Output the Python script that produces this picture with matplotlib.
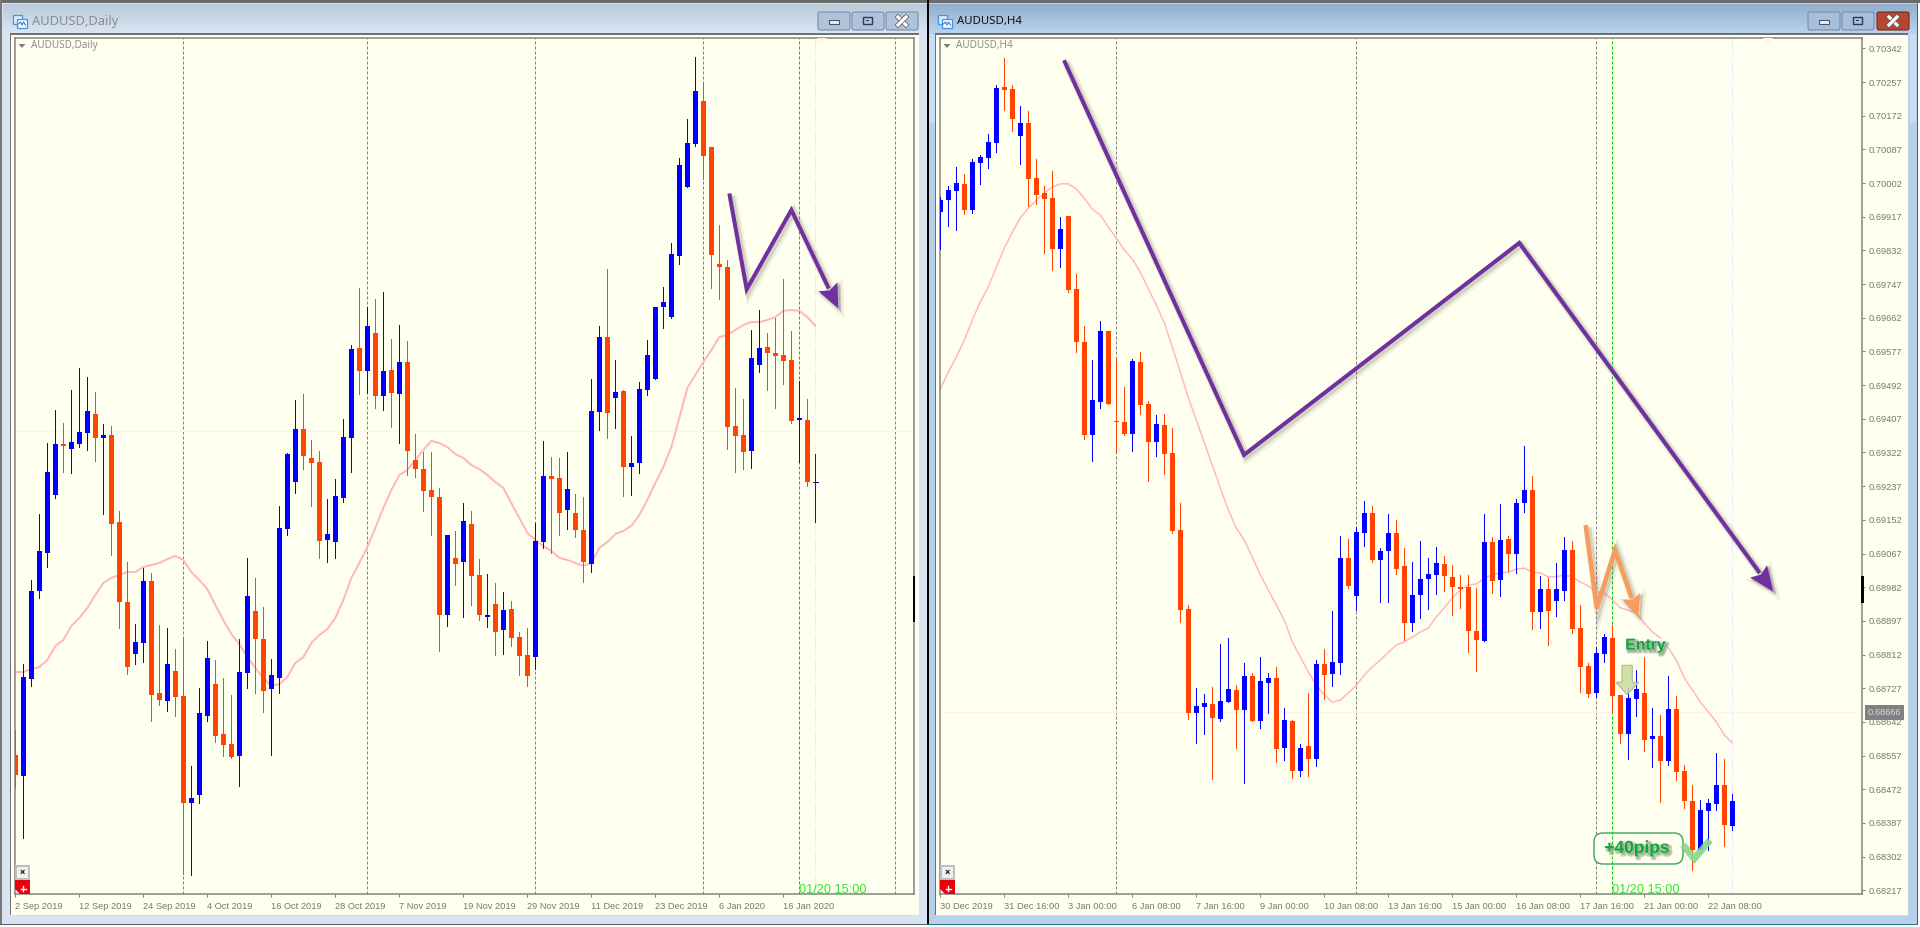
import matplotlib
matplotlib.use("Agg")
import matplotlib.pyplot as plt
import matplotlib.patheffects as pe
from matplotlib.patches import Rectangle, Polygon, FancyBboxPatch
from matplotlib.lines import Line2D
from matplotlib.transforms import IdentityTransform
import numpy as np

# ---------- data (prices in 1e-5 units) ----------
d_dirs = ("obbbbbobbb" "obooobboob" "oobbbooobb" "oobbbbooob" "bbbobobobo"
          "oooobobo" "ob" "obooobboob" "oobbobobbb" "bbbbbboooo" "oobboooobo" "p")
d_high = [67352,67642,68012,68302,68615,68760,68703,68848,68945,68905,
          68839,68698,68690,68316,68091,67818,68065,68043,67814,67801,
          67708,67761,67194,67537,67744,67660,67581,67506,67752,68109,
          68021,67893,67664,68338,68571,68804,68830,68628,68580,68368,
          68456,68720,69046,69297,69213,69248,69279,69072,69134,69064,
          68654,68575,68575,68417,68210,68228,68351,68316,68104,68038,
          67999,67959,67920,67783,67801,68263,68624,68553,68549,68575,
          68390,68377,68896,69130,69380,68980,68848,68646,68883,69068,
          69213,69301,69495,69869,70040,70313,70194,69917,69574,69420,
          68857,68808,69112,69200,69099,69165,69336,69108,68888,68808,68566]
d_top = [67242,67585,67964,68140,68487,68610,68610,68619,68663,68756,
         68742,68650,68650,68267,67915,67739,68008,68008,67515,67642,
         67612,67502,67053,67427,67669,67554,67334,67290,67607,67942,
         67876,67752,67594,68241,68566,68676,68676,68549,68531,68214,
         68382,68641,69028,69033,69130,69099,68932,68936,68971,68971,
         68540,68500,68408,68377,68210,68109,68272,68258,68034,67858,
         67906,67880,67884,67761,67682,68184,68470,68470,68461,68412,
         68307,68232,68756,69081,69081,68839,68844,68527,68852,69002,
         69213,69235,69446,69838,69935,70164,70120,69917,69402,69389,
         68690,68650,68989,69033,69037,69011,69002,68980,68725,68716,68443]
d_bot = [67154,67150,67576,67964,68131,68386,68602,68588,68610,68659,
         68637,68637,68258,67915,67629,67686,67735,67506,67484,67480,
         67497,67031,67031,67066,67414,67326,67286,67233,67238,67603,
         67752,67524,67532,67581,68236,68443,68558,68527,68184,68188,
         68179,68373,68637,68932,68932,68822,68822,68835,68830,68580,
         68500,68404,68377,67858,67858,68082,68091,68030,67858,67849,
         67783,67792,67757,67678,67590,67673,68179,68456,68307,68320,
         68232,68091,68082,68751,68747,68813,68509,68509,68527,68848,
         68896,69213,69169,69438,69741,69930,69878,69442,69389,68685,
         68646,68575,68580,68958,69011,68998,68976,68712,68716,68443,68443]
d_low = [67101,66877,67546,67933,68069,68373,68487,68483,68597,68584,
         68536,68302,68122,67801,67598,67642,67651,67392,67462,67436,
         67414,66718,66714,67031,67392,67299,67238,67229,67106,67537,
         67515,67431,67242,67515,68210,68395,68500,68338,68109,68091,
         68109,68355,68487,68830,68835,68769,68760,68685,68615,68474,
         68465,68316,68210,67700,67810,67990,67849,67902,67836,67805,
         67682,67686,67722,67594,67546,67620,68153,68131,68210,68236,
         68201,68003,68047,68672,68637,68681,68382,68386,68483,68826,
         68896,69121,69165,69402,69741,69922,69776,69297,69248,68588,
         68487,68500,68505,68927,68848,68769,68874,68703,68531,68426,68267]
d_ma = [67607,67607,67620,67629,67660,67722,67748,67810,67845,67889,
        67946,67999,68021,68034,68047,68047,68069,68078,68087,68104,
        68118,68100,68047,68012,67972,67902,67836,67774,67730,67673,
        67625,67581,67546,67554,67585,67647,67673,67735,67770,67796,
        67845,67924,68021,68087,68157,68241,68329,68408,68474,68496,
        68540,68584,68624,68615,68597,68566,68549,68518,68500,68474,
        68443,68417,68351,68285,68219,68188,68162,68140,68109,68100,
        68087,68074,68087,68153,68179,68214,68228,68250,68298,68364,
        68439,68509,68597,68725,68857,68914,68971,69024,69081,69090,
        69112,69134,69147,69147,69156,69169,69196,69200,69196,69169,69130]
d_tick_idx = [0,8,16,24,32,40,48,56,64,72,80,88,96]
d_tick_lab = ["2 Sep 2019","12 Sep 2019","24 Sep 2019","4 Oct 2019","16 Oct 2019",
              "28 Oct 2019","7 Nov 2019","19 Nov 2019","29 Nov 2019","11 Dec 2019",
              "23 Dec 2019","6 Jan 2020","16 Jan 2020"]
d_seps = [21,44,65,86,110]

h_dirs = ("bbbobbbboo" "boooobooob" "booobooboo" "oobbobbobo" "bbobobobob"
          "bobbobboob" "bbbooooobo" "bobbobobbo" "oobboobbob" "obooobbbob")
h_high = [69967,69995,70043,70025,70063,70073,70126,70249,70318,70249,
          70196,70184,70063,69995,70032,69916,69919,69772,69641,69555,
          69654,69629,69558,69487,69558,69576,69452,69417,69419,69384,
          69195,68937,68728,68712,68730,68839,68854,68735,68791,68765,
          68806,68765,68781,68677,68647,68586,68715,68798,68826,68922,
          69111,69104,69134,69200,69187,69081,69167,69152,69081,69046,
          69099,69056,69083,69061,69038,69013,69013,68980,69167,69109,
          69192,69111,69205,69338,69263,69010,69005,69043,69109,69099,
          68937,68791,68831,68864,68887,68710,68728,68773,68806,68677,
          68660,68758,68707,68533,68483,68445,68447,68564,68548,68460]
h_top = [69959,69984,70002,70000,70055,70068,70106,70242,70244,70239,
         70154,70154,70015,69977,69964,69886,69919,69735,69601,69454,
         69629,69629,69401,69399,69553,69550,69444,69394,69391,69321,
         69126,68927,68682,68690,68687,68695,68725,68723,68758,68758,
         68745,68753,68753,68647,68644,68576,68581,68788,68788,68793,
         69056,69056,69121,69169,69169,69073,69119,69119,69036,68962,
         69003,69015,69043,69041,69008,68982,68982,68871,69096,69096,
         69101,69104,69195,69227,69227,68977,68977,68977,69076,69076,
         68879,68783,68816,68856,68854,68710,68702,68725,68715,68606,
         68606,68675,68675,68518,68442,68420,68437,68483,68483,68442]
h_bot = [69929,69959,69982,69934,69934,70053,70065,70103,70237,70164,
         70121,70012,69972,69962,69836,69836,69732,69601,69366,69366,
         69449,69444,69399,69369,69369,69442,69348,69348,69318,69124,
         68924,68664,68664,68680,68652,68649,68692,68672,68672,68644,
         68644,68740,68574,68576,68518,68518,68548,68548,68760,68763,
         68791,68985,68960,69119,69051,69051,69073,69028,68892,68892,
         68962,69003,69013,69010,68982,68977,68871,68849,68846,68998,
         69000,69066,69066,69195,68919,68919,68922,68947,68972,68877,
         68781,68712,68715,68813,68707,68611,68611,68700,68596,68599,
         68543,68543,68516,68442,68319,68319,68417,68435,68382,68379]
h_low = [69836,69894,69883,69924,69926,70000,70040,70080,70186,70133,
         70050,69944,69949,69825,69783,69790,69727,69576,69356,69300,
         69434,69444,69323,69366,69326,69419,69250,69313,69268,69119,
         68894,68649,68589,68611,68498,68644,68692,68576,68488,68644,
         68627,68664,68541,68546,68500,68505,68505,68531,68700,68733,
         68763,68980,68924,69086,69046,68945,68945,69015,68849,68871,
         68904,68927,68965,68972,68912,68930,68818,68770,68846,68967,
         68960,69023,69018,69172,68877,68879,68836,68909,68950,68866,
         68717,68705,68705,68793,68667,68589,68548,68657,68569,68528,
         68440,68533,68495,68425,68268,68319,68319,68420,68329,68369]
h_ma = [69482,69525,69563,69606,69656,69702,69740,69790,69838,69878,
        69914,69939,69959,69977,69992,70000,70000,69987,69964,69936,
        69921,69891,69863,69833,69810,69777,69735,69694,69649,69588,
        69525,69460,69404,69346,69290,69232,69177,69131,69101,69058,
        69013,68975,68937,68899,68844,68806,68768,68735,68710,68692,
        68697,68715,68735,68760,68781,68798,68818,68836,68844,68856,
        68869,68879,68907,68930,68955,68975,68988,68990,69005,69013,
        69018,69020,69028,69030,69020,69018,69008,69008,69013,69008,
        68995,68985,68970,68967,68950,68930,68924,68917,68892,68869,
        68854,68829,68798,68753,68723,68692,68667,68642,68609,68589]
h_tick_idx = [0,8,16,24,32,40,48,56,64,72,80,88,96]
h_tick_lab = ["30 Dec 2019","31 Dec 16:00","3 Jan 00:00","6 Jan 08:00","7 Jan 16:00",
              "9 Jan 00:00","10 Jan 08:00","13 Jan 16:00","15 Jan 00:00","16 Jan 08:00",
              "17 Jan 16:00","21 Jan 00:00","22 Jan 08:00"]
h_seps = [22,52,82]
h_yticks = [70342,70257,70172,70087,70002,69917,69832,69747,69662,69577,69492,69407,69322,
            69237,69152,69067,68982,68897,68812,68727,68642,68557,68472,68387,68302,68217]
last_price = 68666

# annotation trend paths (bar index, price)
d_trend_x = [89.25,91.42,97.0,102.87]
d_trend_y = [69713,69291,69640,69207]
h_trend_x = [15.46,37.96,72.37,104.12]
h_trend_y = [70312,69316,69851,68971]
h_small_x = [80.67,82.05,84.33,87.25]
h_small_y = [69139,68929,69076,68907]

# ---------- style ----------
W, H = 1920, 927
BG = "#FFFFF0"; GREY = "#808080"; UP = "#0000FF"; DN = "#FF4500"; PINK = "#FFB6C1"
PURPLE = "#7030A0"; ORANGE = "#F79C5C"; LIME = "#00CC00"; GTXT = "#12A53F"
FONT = "Liberation Sans"
TICKC = "#767676"; TICKFS = 6.7
plt.rcParams["font.family"] = [FONT, "DejaVu Sans"]
PX = 0.72

fig = plt.figure(figsize=(W/100, H/100), dpi=100, facecolor="white")

# ---------- window chrome (pixel coordinates) ----------
bg = fig.add_axes([0,0,1,1], zorder=0); bg.set_axis_off()
def grad(a, x0, x1, y0, y1, c0, c1):
    c0 = np.array(matplotlib.colors.to_rgb(c0)); c1 = np.array(matplotlib.colors.to_rgb(c1))
    g = np.linspace(0,1,32)[:,None,None]*(c1-c0)[None,None,:]+c0[None,None,:]
    a.imshow(g, extent=(x0,x1,y1,y0), aspect="auto", interpolation="bilinear", zorder=1)
def rect(a, x0, y0, x1, y1, fc, ec="none", lw=0, z=2):
    a.add_patch(Rectangle((x0,y0), x1-x0, y1-y0, fc=fc, ec=ec, lw=lw, zorder=z))

rect(bg,0,0,928,925,"#D8E4F2",z=0.5)
rect(bg,928,0,1918,925,"#B8D0EA",z=0.5)
grad(bg,3,927,4,33,"#BACADB","#D8E5F3")
grad(bg,929,1917,4,33,"#93AECD","#B9D3EE")
rect(bg,0,0,1920,3,"#6A6A6A"); rect(bg,0,0,2,925,"#787878")
rect(bg,927,0,929,925,"#000000"); rect(bg,0,924,928,925,"#5A5A5A")
rect(bg,928,923.5,1918,925,"#1C7C8C"); rect(bg,1917,3,1918,925,"#1C6C7C")
rect(bg,929,34,935,123,"#C8DCF2"); rect(bg,1910,34,1916,123,"#C8DCF2")
for cx0, cx1 in ((10.5,919),(935.5,1908)):
    rect(bg,cx0-0.5,33,cx1,915,BG,z=3)
    rect(bg,cx0-0.5,33,cx1,34.5,"#707070",z=4)
    rect(bg,cx0-0.5,33,cx0+0.5,915,"#707070",z=4)
    rect(bg,cx0,914.5,cx1,915.5,"#DCDCDC",z=4)

def button(x0, x1, kind, active):
    face = "#B7482F" if kind=="close" and active else ("#AEC4DC" if not active else "#A5BFDC")
    edge = "#6E2A20" if kind=="close" and active else "#7D8CA0"
    bg.add_patch(FancyBboxPatch((x0+1,13),x1-x0-2,16,boxstyle="round,pad=1,rounding_size=2",fc=face,ec=edge,lw=0.8,zorder=5))
    if kind=="min":
        rect(bg,(x0+x1)/2-5,20,(x0+x1)/2+5,24,"#E8EEF4","#4A5568",0.8,z=6)
    elif kind=="max":
        rect(bg,(x0+x1)/2-5,17,(x0+x1)/2+4,24,"none","#2A3850",1.0,z=6)
        rect(bg,(x0+x1)/2-2,20,(x0+x1)/2+1,21,"#2A3850",z=6)
    else:
        c=(x0+x1)/2
        for sgn in (1,-1):
            bg.plot([c-4,c+4],[21-4*sgn,21+4*sgn],color="white",lw=2.4,zorder=7,
                    path_effects=[pe.Stroke(linewidth=3.4,foreground="#555555"),pe.Normal()])
for (a,b,c),act in (((818,852,886),False),((1808,1842,1877),True)):
    button(a,a+32,"min",act); button(b,b+32,"max",act); button(c,c+32,"close",act)

def winicon(x0):
    rect(bg,x0,15,x0+9,24,"#DDEBFA","#4A90E0",0.9,z=6)
    rect(bg,x0+4,19,x0+14,28,"#F2F8FF","#4A90E0",0.9,z=6)
    bg.plot([x0+5.5,x0+7.5,x0+9,x0+10.5,x0+12.5],[24,22,25,22,25],color="#2E6FC0",lw=0.7,zorder=7)
winicon(13); winicon(938)
bg.text(32,21.5,"AUDUSD,Daily",fontsize=9.3,color="#8C8C8C",va="center",ha="left",zorder=8,family="Noto Sans")
bg.text(957,21.5,"AUDUSD,H4",fontsize=8.2,color="#101010",va="center",ha="left",zorder=8,family="Noto Sans")
bg.set_xlim(0,W); bg.set_ylim(H,0)

# ---------- candlestick panels ----------
def panel(px0, px1, xlim, ylim, dirs, high, top, bot, low, ma, ma_lw, seps, green, last_idx,
          tick_idx, tick_lab):
    ax = fig.add_axes([px0/W,(H-894)/H,(px1-px0)/W,(894-37.5)/H],zorder=2,facecolor=BG)
    ax.set_xlim(*xlim); ax.set_ylim(*ylim)
    for s in ax.spines.values():
        s.set_color(GREY); s.set_linewidth(1.5*PX)
    idx = np.arange(len(high))
    high, top, bot, low = map(lambda a: np.array(a,float), (high,top,bot,low))
    for sx in seps:
        ax.axvline(sx,color=GREY,lw=PX,ls=(0,(3,2)),zorder=1)
    ax.axhline(last_price,color="#FFF2E6",lw=PX,zorder=1)
    ax.axvline(last_idx,color="#E6EEFF",lw=PX,ls=(0,(20,4)),zorder=1)
    ax.axvline(green,color=LIME,lw=PX,ls=(0,(3,2)),zorder=2.7)
    ax.plot(idx,ma,color=PINK,lw=ma_lw*PX,zorder=2)
    for key,col in (("b",UP),("o",DN),("p","#4B0082")):
        m = np.array([c==key for c in dirs])
        if not m.any(): continue
        ax.vlines(idx[m],low[m],high[m],color=col,lw=0.55,zorder=3,antialiased=False)
        if key=="p":
            ax.hlines(top[m],idx[m]-0.31,idx[m]+0.31,color=col,lw=0.55,zorder=3,antialiased=False)
        else:
            ax.bar(idx[m],np.maximum(top[m]-bot[m],1e-3),bottom=bot[m],width=0.625,color=col,
                   linewidth=0,zorder=3,antialiased=False)
    ax.set_xticks(tick_idx); ax.set_xticklabels(tick_lab,ha="left",fontsize=TICKFS,color=TICKC)
    ax.tick_params(axis="x",length=2.4,width=PX,color=GREY,pad=3.2)
    return ax

dxlim = ((14.5-15.33)/8,(914-15.33)/8)
hxlim = ((940-940.33)/8,(1862.3-940.33)/8)
dylim = (70564-4.4*894,70564-4.4*37.5)
hylim = (70464-2.5238*894,70464-2.5238*37.5)

axd = panel(14.5,914,dxlim,dylim,d_dirs,d_high,d_top,d_bot,d_low,d_ma,2.0,d_seps,98,100,d_tick_idx,d_tick_lab)
axh = panel(940,1862.3,hxlim,hylim,h_dirs,h_high,h_top,h_bot,h_low,h_ma,1.5,h_seps,84,99,h_tick_idx,h_tick_lab)
axd.set_yticks([])
axh.yaxis.tick_right()
axh.set_yticks(h_yticks); axh.set_yticklabels([f"{v/1e5:.5f}" for v in h_yticks],fontsize=TICKFS,color=TICKC)
axh.tick_params(axis="y",length=2.4,width=PX,color=GREY,pad=2.5)

# chart labels and time stamp
for ax, x, txt in ((axd,0.0183,"AUDUSD,Daily"),(axh,0.0174,"AUDUSD,H4")):
    ax.text(x,0.9907,txt,transform=ax.transAxes,fontsize=7.2,color="#8C8C8C",va="center",ha="left",zorder=6,family="Noto Sans")
for ax, gi in ((axd,98),(axh,84)):
    ax.annotate("01/20 15:00",xy=(gi,0),xycoords=ax.get_xaxis_transform(),xytext=(0,1),textcoords="offset points",
                fontsize=9.2,color="#32E632",va="baseline",ha="left",zorder=6)
axh.annotate(f"{last_price/1e5:.5f}",xy=(1,last_price),xycoords=axh.get_yaxis_transform(),
             xytext=(3.6,0),textcoords="offset points",fontsize=TICKFS,color="#D9D9D9",va="center",ha="left",
             bbox=dict(boxstyle="square,pad=0.3",fc=GREY,ec="none"),zorder=8,annotation_clip=False)

# ---------- drawn annotations ----------
def shadowfx(lw):
    return [pe.Stroke(offset=(2,-2),linewidth=lw+4,foreground="#6E6E58",alpha=0.10),
            pe.Stroke(offset=(1.5,-1.5),linewidth=lw+1.5,foreground="#6E6E58",alpha=0.22),pe.Normal()]
def trend(ax, xs, ys, color, lw_px, hl, hw):
    p = ax.transData.transform(np.column_stack([xs,ys]))
    tip = p[-1]; d = p[-1]-p[-2]; d = d/np.hypot(*d); n = np.array([-d[1],d[0]])
    base = tip-d*hl
    pts = np.vstack([p[:-1],base+d*2])
    l = Line2D(pts[:,0],pts[:,1],transform=IdentityTransform(),color=color,lw=lw_px*PX,
               solid_joinstyle="miter",solid_capstyle="butt",zorder=5,
               path_effects=shadowfx(lw_px*PX))
    ax.add_artist(l); l.set_clip_on(False)
    head = Polygon([tip,base+n*hw/2,base+d*4,base-n*hw/2],closed=True,transform=IdentityTransform(),
                   fc=color,ec="none",zorder=5.1,path_effects=shadowfx(0.3))
    ax.add_artist(head); head.set_clip_on(False)
trend(axd,d_trend_x,d_trend_y,PURPLE,4,24,21)
trend(axh,h_trend_x,h_trend_y,PURPLE,4,25,21)
trend(axh,h_small_x,h_small_y,ORANGE,4.5,22,19)

axh.text(85.6,68836,"Entry",fontsize=11.4,fontweight="bold",color=GTXT,va="center",ha="left",zorder=6,
         path_effects=[pe.Stroke(linewidth=4,foreground="#FFFFFF",alpha=.9),pe.Stroke(offset=(1.5,-1.5),linewidth=2.5,foreground="#8A8A70",alpha=.45),pe.Normal()])
axh.text(83.0,68323,"+40pips",fontsize=12.5,fontweight="bold",color=GTXT,va="center",ha="left",zorder=6,
         path_effects=[pe.Stroke(offset=(1.5,-1.5),linewidth=2.5,foreground="#8A8A70",alpha=.4),pe.Normal()])
# pips box (display coordinates from the top-left pixel frame)
axh.add_patch(FancyBboxPatch((1598,H-860),81,23,boxstyle="round,pad=4,rounding_size=9",fc=BG,ec="#3DA35A",lw=1.0,
                             transform=IdentityTransform(),zorder=2.5,clip_on=False))
# entry down-arrow
axh.add_patch(Polygon([(85.2,68785),(86.5,68785),(86.5,68742),(87.3,68742),(85.85,68711),(84.45,68742),(85.2,68742)],
                      closed=True,fc="#C8DC9C",ec="#A8B090",lw=0.8,alpha=0.85,zorder=5))
# check mark
axh.plot([93.1,94.25,95.93],[68325,68297,68337],color="#8EE08E",lw=6*PX,alpha=0.8,solid_joinstyle="miter",zorder=5,
         path_effects=[pe.Stroke(linewidth=7*PX,foreground="#5CA06C",alpha=.5),pe.Normal()])

# ---------- overlay widgets ----------
top = fig.add_axes([0,0,1,1],zorder=5); top.set_axis_off(); top.patch.set_alpha(0)
for x0 in (15,940):
    rect(top,x0,865,x0+15,880,"#BEBEBE")
    rect(top,x0+2,867,x0+13,878,"#F0F0F0")
    top.text(x0+7.5,872.5,"×",fontsize=6.5,color="black",ha="center",va="center",fontweight="bold",zorder=3)
    top.add_patch(Polygon([(x0,880),(x0+15,880),(x0+15,894),(x0+5,894),(x0,889)],closed=True,fc="#E8000F",ec="none"))
    top.plot([x0+5.5,x0+11],[888.5,888.5],color="white",lw=1); top.plot([x0+8.2,x0+8.2],[886,891],color="white",lw=1)
    top.add_patch(Polygon([(x0+3.5,44),(x0+10.5,44),(x0+7,48)],closed=True,fc="#808080",ec="none"))
rect(top,912.8,576,915.2,622,"#000000")
rect(top,1861,576,1863.5,603,"#000000")
top.add_patch(Polygon([(817,38),(827,38),(822,42)],closed=True,fc="#FFF0E8",ec="none"))
top.add_patch(Polygon([(1763,38),(1773,38),(1768,43)],closed=True,fc="#FFF0E8",ec="none"))
top.set_xlim(0,W); top.set_ylim(H,0)
fig.savefig("out.png",dpi=100,facecolor="white")
